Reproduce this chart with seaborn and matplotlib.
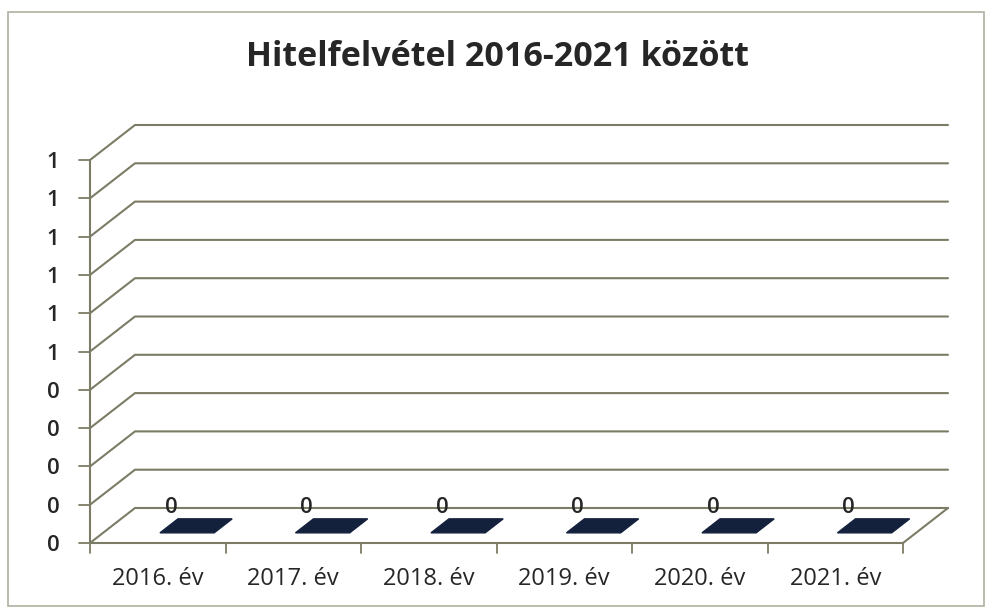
import numpy as np
import pandas as pd
import seaborn as sns
import matplotlib
matplotlib.use('Agg')
import matplotlib.pyplot as plt
from matplotlib.ticker import FixedLocator, FuncFormatter
from matplotlib.patches import Rectangle, Polygon

# data
years = ['2016. év', '2017. év', '2018. év', '2019. év', '2020. év', '2021. év']
values = [0, 0, 0, 0, 0, 0]
y_ticks = [0.0, 0.1, 0.2, 0.3, 0.4, 0.5, 0.6, 0.7, 0.8, 0.9, 1.0]
title = 'Hitelfelvétel 2016-2021 között'

sns.set_style('white')
plt.rcParams['font.family'] = ['Open Sans', 'DejaVu Sans']

fig = plt.figure(figsize=(9.94, 6.08), dpi=100)
fig.patch.set_facecolor('white')
ax = fig.add_axes([90 / 994, 65 / 608, 813 / 994, 383 / 608])

df = pd.DataFrame({'year': years, 'value': values})
sns.barplot(data=df, x='year', y='value', ax=ax, color='#1a2a4a', width=0.4)

ax.set_xlim(-0.5, len(years) - 0.5)
ax.set_ylim(0, 1)
ax.set_xlabel('')
ax.set_ylabel('')
for s in ['top', 'right', 'left', 'bottom']:
    ax.spines[s].set_visible(False)

# depth offset of the pseudo 3d box (data units)
dx = 45 / 135.5
dy = 35 / 383
grid_c = '#7c7c66'
x0, x1 = -0.5, len(years) - 0.5

# back wall + left wall lines
for v in y_ticks:
    ax.plot([x0, x0 + dx, x1 + dx], [v, v + dy, v + dy], color=grid_c, lw=1.5,
            clip_on=False, solid_joinstyle='miter')
# floor front edge and right side
ax.plot([x0, x1, x1 + dx], [0, 0, dy], color=grid_c, lw=1.5, clip_on=False)
# vertical axis
ax.plot([x0, x0], [0, 1], color=grid_c, lw=1.5, clip_on=False)

# ticks
ax.yaxis.set_major_locator(FixedLocator(y_ticks))
ax.yaxis.set_major_formatter(FuncFormatter(lambda v, p: str(int(np.floor(v + 0.5 + 1e-9)))))
ax.set_xticks(range(len(years)))
ax.set_xticklabels(years)
ax.tick_params(axis='y', length=0, pad=22, labelsize=16)
ax.tick_params(axis='x', length=0, pad=17, labelsize=17)
for lab in ax.get_yticklabels():
    lab.set_fontweight('semibold')
for lab in ax.get_xticklabels():
    lab.set_fontweight('medium')
for b in np.arange(len(years) + 1) - 0.5:
    ax.plot([b, b], [0, -0.025], color=grid_c, lw=1.3, clip_on=False)
for v in y_ticks:
    ax.plot([x0 - 0.08, x0], [v, v], color=grid_c, lw=1.3, clip_on=False)

# flat bars (zero height) drawn as parallelograms on the floor + value labels
t0, t1 = 0.29, 0.69
for i, val in enumerate(values):
    xc = i + 0.12
    half = 0.2
    pts = [(xc - half + dx * t0, val + dy * t0), (xc + half + dx * t0, val + dy * t0),
           (xc + half + dx * t1, val + dy * t1), (xc - half + dx * t1, val + dy * t1)]
    ax.add_patch(Polygon(pts, closed=True, facecolor='#14213d', edgecolor='#14213d',
                         clip_on=False, zorder=3))
    ax.text(xc - 0.02, val + dy * 1.02, f'{val:g}', ha='center', va='center',
            fontsize=16, fontweight='semibold', zorder=4)

fig.text(0.5, 1 - 57 / 608, title, ha='center', va='center', fontsize=24.5, fontweight='bold')

fig.add_artist(Rectangle((8 / 994, 2 / 608), 976 / 994, 594 / 608, transform=fig.transFigure,
                         fill=False, edgecolor='#b0b0a0', lw=1.2))

fig.savefig('out.png', dpi=100, facecolor='white')
